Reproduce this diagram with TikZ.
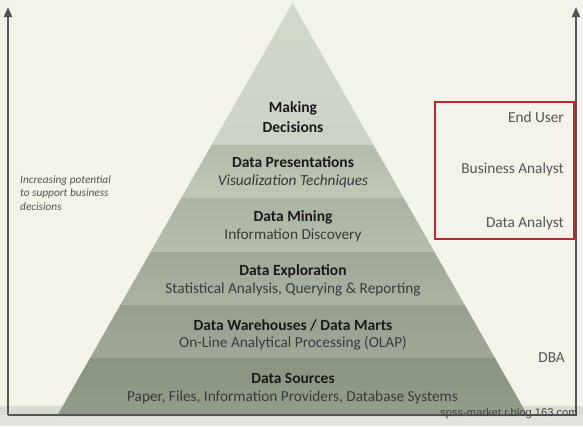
\documentclass[tikz,border=0pt]{standalone}
\usepackage{fontspec}
\setmainfont{Carlito}
\newfontfamily\wmfont{Liberation Sans}
\usetikzlibrary{arrows.meta}
\definecolor{bgc}{HTML}{F3F3E9}
\definecolor{bandgray}{HTML}{DADAD4}
\definecolor{lowgray}{HTML}{E2E2DE}
\definecolor{framec}{HTML}{555555}
\definecolor{redbox}{HTML}{C0282D}
\definecolor{bA}{HTML}{D3DACD}
\definecolor{bB}{HTML}{BFC7B8}
\definecolor{bC}{HTML}{B6BEAF}
\definecolor{bD}{HTML}{AAB3A3}
\definecolor{bE}{HTML}{A0A999}
\definecolor{bF}{HTML}{939D8C}
\definecolor{titlec}{HTML}{1A1A1A}
\definecolor{subc}{HTML}{3A3A3A}
\definecolor{rolec}{HTML}{555555}
\tikzset{
  title/.style={font=\bfseries\fontsize{15.5}{17}\selectfont, text=titlec, inner sep=0pt},
  sub/.style={font=\fontsize{15.3}{17}\selectfont, text=subc, inner sep=0pt},
  role/.style={font=\fontsize{15.3}{17}\selectfont, text=rolec, inner sep=0pt, anchor=east},
  side/.style={font=\itshape\fontsize{11.3}{13.6}\selectfont, text=rolec, inner sep=0pt, anchor=north west, align=left},
  framestyle/.style={draw=framec, line width=1.8pt},
  tip/.style={-{Triangle[width=8pt,length=10pt]}}
}
\begin{document}
\begin{tikzpicture}[x=1pt,y=-1pt]
\useasboundingbox (0,0) rectangle (583,426);
\fill[bgc] (0,0) rectangle (583,426);
\fill[bandgray] (0,406) rectangle (583,415);
\fill[lowgray] (0,415) rectangle (583,426);
% pyramid
\begin{scope}
\clip (292.5,3) -- (528,416) -- (57,416) -- cycle;
\shade[top color=bA!103!white, bottom color=bA!97!black] (0,0) rectangle (583,145);
\shade[top color=bB!94!black, bottom color=bB] (0,145) rectangle (583,198);
\shade[top color=bC!94!black, bottom color=bC] (0,198) rectangle (583,252);
\shade[top color=bD!94!black, bottom color=bD] (0,252) rectangle (583,305);
\shade[top color=bE!94!black, bottom color=bE] (0,305) rectangle (583,358);
\shade[top color=bF!94!black, bottom color=bF] (0,358) rectangle (583,416);
\end{scope}
% frame with arrows
\coordinate (lt) at (8,7);
\coordinate (lb) at (8,415);
\coordinate (rb) at (576,415);
\coordinate (rt) at (576,7);
\draw[framestyle, tip] (lb) -- (lt);
\draw[framestyle, tip] (rb) -- (rt);
\draw[framestyle] (lb) -- (rb);
% pyramid texts
\node[title] (t0a) at (293,108) {Making};
\node[title] (t0b) at (293,127) {Decisions};
\node[title] (t1) at (293,162) {Data Presentations};
\node[sub, font=\itshape\fontsize{15.3}{17}\selectfont] (s1) at (293,181) {Visualization Techniques};
\node[title] (t2) at (293,217) {Data Mining};
\node[sub] (s2) at (293,235) {Information Discovery};
\node[title] (t3) at (293,271) {Data Exploration};
\node[sub] (s3) at (293,289) {Statistical Analysis, Querying \& Reporting};
\node[title] (t4) at (293,325) {Data Warehouses / Data Marts};
\node[sub] (s4) at (293,343) {On-Line Analytical Processing (OLAP)};
\node[title] (t5) at (293,378) {Data Sources};
\node[sub] (s5) at (292.5,397) {Paper, Files, Information Providers, Database Systems};
% left text
\node[side] (lefttext) at (20,175) {Increasing potential\\to support business\\decisions};
% right roles
\draw[draw=redbox, line width=2.4pt] (435,102) rectangle (574,239);
\node[role] (r1) at (564,117) {End User};
\node[role] (r2) at (564,169) {Business Analyst};
\node[role] (r3) at (564,223) {Data Analyst};
\node[role] (r4) at (565,358) {DBA};
% watermark
\node[font=\wmfont\fontsize{11.2}{12}\selectfont, text=framec!80!black, anchor=east, inner sep=0pt] (wm) at (578,414) {spss-market.r.blog.163.com};
\end{tikzpicture}
\end{document}
